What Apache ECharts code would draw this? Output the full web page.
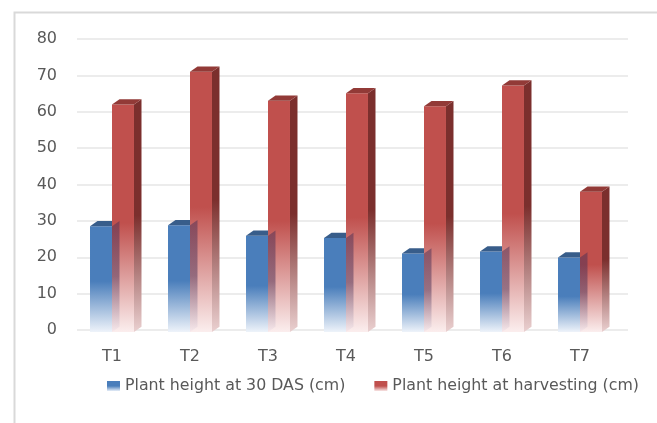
<!DOCTYPE html>
<html>
<head>
<meta charset="utf-8">
<script src="https://cdn.jsdelivr.net/npm/echarts@6/dist/echarts.min.js"></script>
<style>
html, body { margin: 0; padding: 0; background: #fff; }
#container1 { width: 657px; height: 423px; }
</style>
</head>
<body>
<div id="container1"></div>
<script>
var categories = ['T1', 'T2', 'T3', 'T4', 'T5', 'T6', 'T7'];
var height30 = [28.5, 28.8, 25.9, 25.3, 21.0, 21.6, 19.9];
var heightHarvest = [62.0, 71.0, 63.0, 65.1, 61.5, 67.2, 38.0];
var yTicks = [0, 80, 10]; // min, max, interval
var seriesNames = ['Plant height at 30 DAS (cm)', 'Plant height at harvesting (cm)'];

var dom = document.getElementById('container1');
var myChart = echarts.init(dom);
var font = '"DejaVu Sans", sans-serif';

function grad(c1, c2, at) {
    return new echarts.graphic.LinearGradient(0, 0, 0, 1, [
        {offset: 0, color: c1}, {offset: at, color: c1}, {offset: 1, color: c2}
    ]);
}

// slot 0 = left (blue), slot 1 = right (red); shadowOnly draws the see-through side
function bar3d(slot, front, frontEnd, topColor, sideColor, sideEnd, shadowOnly) {
    return function (params, api) {
        var idx = api.value(0), v = api.value(1);
        var top = api.coord([idx, v]);
        var base = api.coord([idx, 0]);
        var band = api.size([1, 0])[0];
        var w = band * 0.282;
        var dx = 7.5, dy = -5.3;
        var x0 = top[0] - w + slot * w;
        var x1 = x0 + w;
        var y0 = top[1], yb = base[1] + 2;
        var side = {
            type: 'polygon',
            shape: {points: [[x1, y0], [x1 + dx, y0 + dy], [x1 + dx, yb + dy], [x1, yb]]},
            style: {fill: new echarts.graphic.LinearGradient(0, 0, 0, 1, [
                {offset: 0, color: sideColor}, {offset: 0.5, color: sideColor}, {offset: 1, color: sideEnd}
            ])}
        };
        if (shadowOnly) {
            side.style.opacity = 0.5;
            return {type: 'group', children: [side]};
        }
        return {
            type: 'group',
            children: [
                side,
                {type: 'rect', shape: {x: x0, y: y0, width: w, height: yb - y0},
                 style: {fill: grad(front, frontEnd, 0.52)}},
                {type: 'polygon',
                 shape: {points: [[x0, y0], [x0 + dx, y0 + dy], [x1 + dx, y0 + dy], [x1, y0]]},
                 style: {fill: topColor}}
            ]
        };
    };
}

var blueData = height30.map(function (v, i) { return [i, v]; });
var redData = heightHarvest.map(function (v, i) { return [i, v]; });

option = {
    animation: false,
    textStyle: {fontFamily: font},
    graphic: [{
        type: 'rect', left: 12, top: 10,
        shape: {width: 700, height: 500},
        style: {fill: 'none', stroke: '#d9d9d9', lineWidth: 2}, silent: true
    }],
    grid: [
        {left: 73, right: 38, top: 39, bottom: 93},
        {left: 77, right: 29, top: 39, bottom: 93}
    ],
    legend: {
        left: 107, top: 378, padding: 0,
        itemWidth: 13, itemHeight: 10, itemGap: 29,
        textStyle: {color: '#595959', fontSize: 15.8, fontFamily: font},
        data: [
            {name: seriesNames[0], icon: 'rect', itemStyle: {color: grad('#4a7ebb', '#e6eef8', 0.5)}},
            {name: seriesNames[1], icon: 'rect', itemStyle: {color: grad('#c0504d', '#f8e6e6', 0.5)}}
        ]
    },
    xAxis: [
        {type: 'category', gridIndex: 0, data: categories,
         axisLine: {show: false}, axisTick: {show: false},
         axisLabel: {color: '#595959', fontSize: 16, margin: 19}},
        {type: 'category', gridIndex: 1, data: categories, show: false}
    ],
    yAxis: [
        {type: 'value', gridIndex: 0, min: yTicks[0], max: yTicks[1], interval: yTicks[2],
         axisLine: {show: false}, axisTick: {show: false}, splitLine: {show: false},
         axisLabel: {color: '#595959', fontSize: 16, margin: 16}},
        {type: 'value', gridIndex: 1, min: yTicks[0], max: yTicks[1], interval: yTicks[2],
         axisLine: {show: false}, axisTick: {show: false}, axisLabel: {show: false},
         splitLine: {lineStyle: {color: '#ececec', width: 2}}}
    ],
    series: [
        {name: seriesNames[0], type: 'custom', xAxisIndex: 0, yAxisIndex: 0, z: 2,
         itemStyle: {color: '#4a7ebb'},
         renderItem: bar3d(0, '#4a7ebb', '#eef3fa', '#385d8a', '#2c4d75', '#c8d6ea', false),
         data: blueData},
        {name: seriesNames[1], type: 'custom', xAxisIndex: 0, yAxisIndex: 0, z: 3,
         itemStyle: {color: '#c0504d'},
         renderItem: bar3d(1, '#c0504d', '#fbeeee', '#923a37', '#7b2f2d', '#ead0d0', false),
         data: redData},
        {name: seriesNames[0], type: 'custom', xAxisIndex: 0, yAxisIndex: 0, z: 4,
         renderItem: bar3d(0, '#4a7ebb', '#eef3fa', '#385d8a', '#4a2f55', '#f3e4ea', true),
         data: blueData}
    ]
};

if (option && typeof option === "object") {
    myChart.setOption(option, true);
}
</script>
</body>
</html>
